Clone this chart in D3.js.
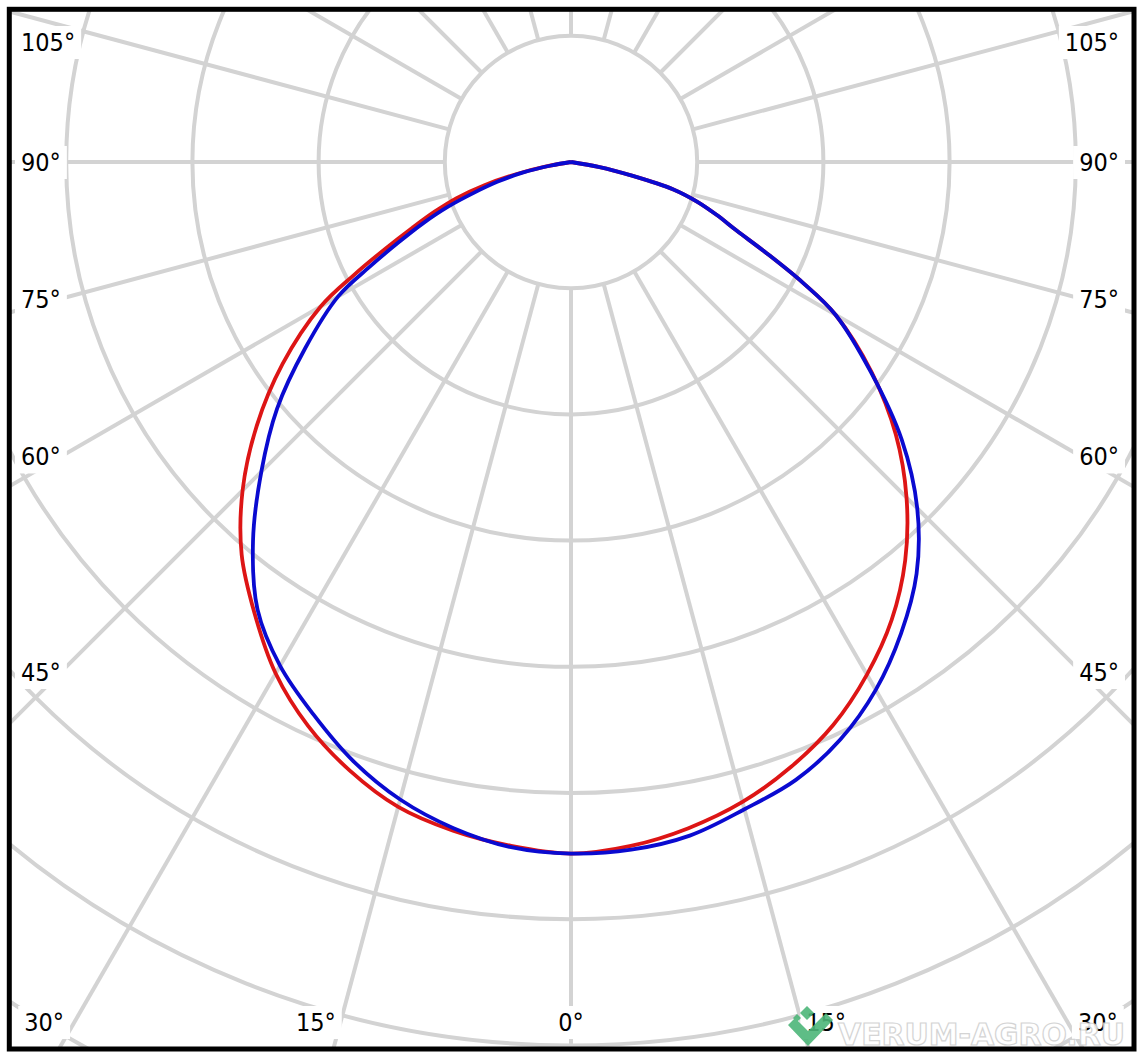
<!DOCTYPE html>
<html><head><meta charset="utf-8">
<script src="https://cdn.jsdelivr.net/npm/d3@7"></script>
<style>html,body{margin:0;padding:0;background:#fff;} svg{display:block;}</style>
</head><body>
<svg id="chart" width="1142" height="1064"></svg>
<script>
// ---- data (angle from nadir in degrees; negative = left half) ----
const angles = [-90,-87.5,-85,-82.5,-80,-77.5,-75,-72.5,-70,-67.5,-65,-62.5,-60,-55,-50,-45,-40,-35,-30,-25,-20,-15,-10,-5,
  0,5,10,15,20,25,30,35,40,45,50,55,60,62.5,65,67.5,70,72.5,75,77.5,80,82.5,85,87.5,90];
// luminous intensity (arbitrary units, one grid ring = 100)
const redValues = [0,0,0,0,19,44,71,95,115,136,162,194,229,279,325,368,406,437,468,493,513,529,538,544,
  548,544,536,525,510,492,469,443,412,376,336,291,242,207,171,142,123,105,84,48,23,0,0,0,0];
const blueValues = [0,0,0,0,16,40,60,80,104,127,151,180,213,257,304,347,392,433,461,483,505,523,536,545,
  548,547,542,531,521,505,483,456,426,388,342,290,242,207,171,142,123,105,84,48,23,0,0,0,0];
const ringValues = [100,200,300,400,500,600,700,800,900];
const spokeAngles = d3.range(0, 360, 15);
const sideLabels = [105, 90, 75, 60, 45];
const bottomLabels = [30, 15, 0];
const watermark = "VERUM-AGRO.RU";

// ---- layout ----
const W = 1142, H = 1064;
const cx = 571, cy = 162;
const frame = {x0: 9.3, y0: 9.3, x1: 1134, y1: 1049};
const r = d3.scaleLinear().domain([0, 100]).range([0, 126.2]);
const rad = d => d * Math.PI / 180;
const gridColor = "#d3d3d3";
const fontFam = "'DejaVu Sans Condensed', 'DejaVu Sans', Verdana, sans-serif";
const fs = 25;

const svg = d3.select("#chart");
svg.append("rect").attr("width", W).attr("height", H).attr("fill", "#fff");

svg.append("clipPath").attr("id", "clip").append("rect")
  .attr("x", frame.x0).attr("y", frame.y0)
  .attr("width", frame.x1 - frame.x0).attr("height", frame.y1 - frame.y0);

const g = svg.append("g").attr("clip-path", "url(#clip)");
const grid = g.append("g").attr("transform", `translate(${cx},${cy})`);

// spokes (start at inner ring)
grid.selectAll("line.spoke").data(spokeAngles).join("line")
  .attr("class", "spoke")
  .attr("x1", a => r(ringValues[0]) * Math.sin(rad(a)))
  .attr("y1", a => r(ringValues[0]) * Math.cos(rad(a)))
  .attr("x2", a => r(1200) * Math.sin(rad(a)))
  .attr("y2", a => r(1200) * Math.cos(rad(a)))
  .attr("stroke", gridColor).attr("stroke-width", 4);

// rings
grid.selectAll("circle.ring").data(ringValues).join("circle")
  .attr("class", "ring")
  .attr("r", v => r(v))
  .attr("fill", "none").attr("stroke", gridColor).attr("stroke-width", 4);

// labels with white background
const labelLayer = g.append("g");
function addLabel(text, x, yCenter, anchor) {
  const t = labelLayer.append("text")
    .attr("x", x).attr("y", yCenter + 0.36 * fs)
    .attr("text-anchor", anchor)
    .attr("font-family", fontFam).attr("font-size", fs).attr("fill", "#000")
    .text(text);
  const b = t.node().getBBox();
  labelLayer.insert("rect", "text")
    .attr("x", b.x - 6).attr("y", b.y - 2)
    .attr("width", b.width + 12).attr("height", b.height + 4)
    .attr("fill", "#fff");
}
const sideInset = 61, leftTextX = 21, rightTextX = 1119, topLimit = 42;
sideLabels.forEach(a => {
  const yy = Math.max(topLimit, cy + (cx - sideInset) * Math.cos(rad(a)) / Math.sin(rad(a)));
  addLabel(a + "°", leftTextX, yy, "start");
  addLabel(a + "°", rightTextX, yy, "end");
});
const bottomRayY = 1040, bottomTextY = 1022;
bottomLabels.forEach(a => {
  const dx = (bottomRayY - cy) * Math.tan(rad(a));
  if (a === 0) { addLabel(a + "°", cx, bottomTextY, "middle"); return; }
  addLabel(a + "°", cx - dx, bottomTextY, "end");
  addLabel(a + "°", cx + dx, bottomTextY, "start");
});

// curves
const rows = s => angles.map((a, i) => ({a, v: s[i]}));
const line = d3.lineRadial()
  .angle(d => Math.PI - rad(d.a))
  .radius(d => r(d.v))
  .curve(d3.curveCatmullRom.alpha(0.5));
const curves = g.append("g").attr("transform", `translate(${cx},${cy})`);
curves.append("path").attr("d", line(rows(redValues)))
  .attr("fill", "none").attr("stroke", "#dd1515").attr("stroke-width", 3.8).attr("stroke-linejoin", "round");
curves.append("path").attr("d", line(rows(blueValues)))
  .attr("fill", "none").attr("stroke", "#0a0ad0").attr("stroke-width", 3.8).attr("stroke-linejoin", "round");

// watermark
const wm = svg.append("g").attr("opacity", 0.9);
const logo = wm.append("g").attr("fill", "#4db679");
logo.append("path").attr("d", "M788,1025 L795,1018 L808,1031 L826,1013 L833,1020 L808,1046 Z");
logo.append("path").attr("d", "M807,1006 L814,1013 L807,1020 L800,1013 Z");
logo.append("path").attr("d", "M797,1014 L801,1018 L797,1022 L793,1018 Z");
wm.append("text").attr("x", 838).attr("y", 1045)
  .attr("font-family", "'DejaVu Sans', Verdana, sans-serif").attr("font-weight", "bold")
  .attr("font-size", 30).attr("textLength", 287).attr("lengthAdjust", "spacingAndGlyphs")
  .attr("fill", "#ffffff").attr("stroke", "#d0d0d0").attr("stroke-width", 1.2)
  .text(watermark);

// frame
svg.append("rect")
  .attr("x", frame.x0).attr("y", frame.y0)
  .attr("width", frame.x1 - frame.x0).attr("height", frame.y1 - frame.y0)
  .attr("fill", "none").attr("stroke", "#000").attr("stroke-width", 5);
</script>
</body></html>
